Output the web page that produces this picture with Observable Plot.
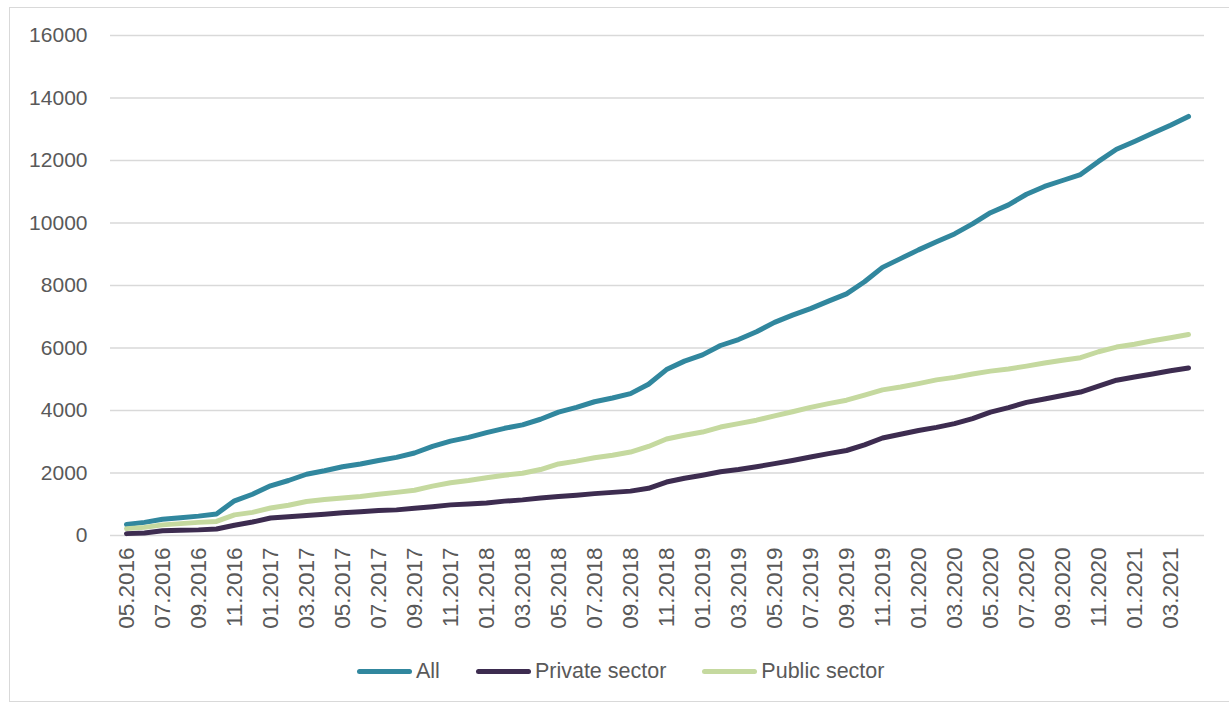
<!DOCTYPE html>
<html>
<head>
<meta charset="utf-8">
<script src="https://cdn.jsdelivr.net/npm/d3@7"></script>
<script src="https://cdn.jsdelivr.net/npm/@observablehq/plot@0.6"></script>
<style>
  html, body { margin: 0; padding: 0; background: #fff; }
  #wrap { position: relative; width: 1229px; height: 702px; overflow: hidden; font-family: "Liberation Sans", Arial, sans-serif; }
  #frame { position: absolute; left: 9px; top: 7px; width: 1240px; height: 695px; border: 1px solid #d9d9d9; box-sizing: border-box; }
  #chart { position: absolute; left: 0; top: 0; }
  #legend { position: absolute; left: 357px; top: 659px; display: flex; align-items: center; font-size: 21.5px; color: #595959; }
  .item { display: flex; align-items: center; margin-right: 36px; }
  .swatch { width: 55px; height: 5px; border-radius: 3px; margin-right: 4px; }
</style>
</head>
<body>
<div id="wrap">
  <div id="frame"></div>
  <div id="chart"></div>
  <div id="legend"></div>
</div>
<script>
const months = [
  "05.2016","06.2016","07.2016","08.2016","09.2016","10.2016","11.2016","12.2016",
  "01.2017","02.2017","03.2017","04.2017","05.2017","06.2017","07.2017","08.2017","09.2017","10.2017","11.2017","12.2017",
  "01.2018","02.2018","03.2018","04.2018","05.2018","06.2018","07.2018","08.2018","09.2018","10.2018","11.2018","12.2018",
  "01.2019","02.2019","03.2019","04.2019","05.2019","06.2019","07.2019","08.2019","09.2019","10.2019","11.2019","12.2019",
  "01.2020","02.2020","03.2020","04.2020","05.2020","06.2020","07.2020","08.2020","09.2020","10.2020","11.2020","12.2020",
  "01.2021","02.2021","03.2021","04.2021"
];
const allValues = [
  350,420,520,570,620,690,1110,1320,
  1590,1760,1960,2070,2200,2290,2400,2500,2640,2850,3020,3140,
  3290,3430,3540,3720,3950,4100,4280,4400,4540,4840,5310,5580,
  5780,6080,6270,6520,6820,7050,7260,7500,7730,8120,8580,8860,
  9140,9400,9650,9970,10330,10580,10920,11170,11360,11550,11970,12360,
  12610,12870,13130,13410
];
const privateValues = [
  60,80,150,170,180,210,330,430,
  560,600,640,680,730,760,800,820,870,920,980,1010,
  1040,1100,1140,1200,1250,1290,1340,1380,1420,1510,1710,1830,
  1930,2040,2110,2200,2300,2400,2510,2620,2720,2900,3120,3240,
  3360,3460,3580,3740,3950,4090,4260,4370,4480,4590,4780,4970,
  5070,5170,5270,5360
];
const publicValues = [
  220,260,340,380,420,450,660,740,
  880,970,1090,1150,1200,1250,1320,1380,1450,1580,1690,1760,
  1850,1930,1990,2110,2290,2380,2490,2570,2670,2850,3090,3210,
  3310,3470,3580,3690,3830,3960,4100,4220,4330,4490,4660,4750,
  4860,4980,5060,5170,5260,5330,5420,5520,5610,5690,5880,6030,
  6120,6230,6330,6430
];
const seriesNames = ["All", "Private sector", "Public sector"];
const seriesColors = ["#31879e", "#3d2c50", "#c5d99f"];
const yTicks = [0,2000,4000,6000,8000,10000,12000,14000,16000];
const xTicks = months.filter((d, i) => i % 2 === 0);

const seriesValues = [allValues, privateValues, publicValues];
const data = [];
seriesNames.forEach((name, s) => {
  months.forEach((m, i) => data.push({month: m, value: seriesValues[s][i], series: name}));
});

const chart = Plot.plot({
  width: 1229,
  height: 645,
  marginLeft: 110,
  marginRight: 25,
  marginTop: 35,
  marginBottom: 110,
  style: {fontFamily: "'Liberation Sans', Arial, sans-serif", fontSize: "21px", color: "#595959", background: "transparent"},
  x: {type: "point", domain: months, padding: 0.5},
  y: {domain: [0, 16000]},
  color: {domain: seriesNames, range: seriesColors},
  marks: [
    Plot.gridY(yTicks, {stroke: "#d9d9d9", strokeOpacity: 1, strokeWidth: 1.5}),
    Plot.axisY(yTicks, {tickSize: 0, tickPadding: 23, tickFormat: d => String(d), label: null, fontSize: 21}),
    Plot.axisX(xTicks, {tickSize: 0, tickPadding: 12, tickRotate: -90, label: null, fontSize: 22.5}),
    Plot.lineY(data, {x: "month", y: "value", z: "series", stroke: "series", strokeWidth: 5, strokeLinejoin: "round", strokeLinecap: "round"})
  ]
});
document.getElementById("chart").appendChild(chart);

const legend = document.getElementById("legend");
seriesNames.forEach((name, i) => {
  const item = document.createElement("div");
  item.className = "item";
  const sw = document.createElement("div");
  sw.className = "swatch";
  sw.style.background = seriesColors[i];
  const label = document.createElement("span");
  label.textContent = name;
  item.appendChild(sw);
  item.appendChild(label);
  legend.appendChild(item);
});
</script>
</body>
</html>
